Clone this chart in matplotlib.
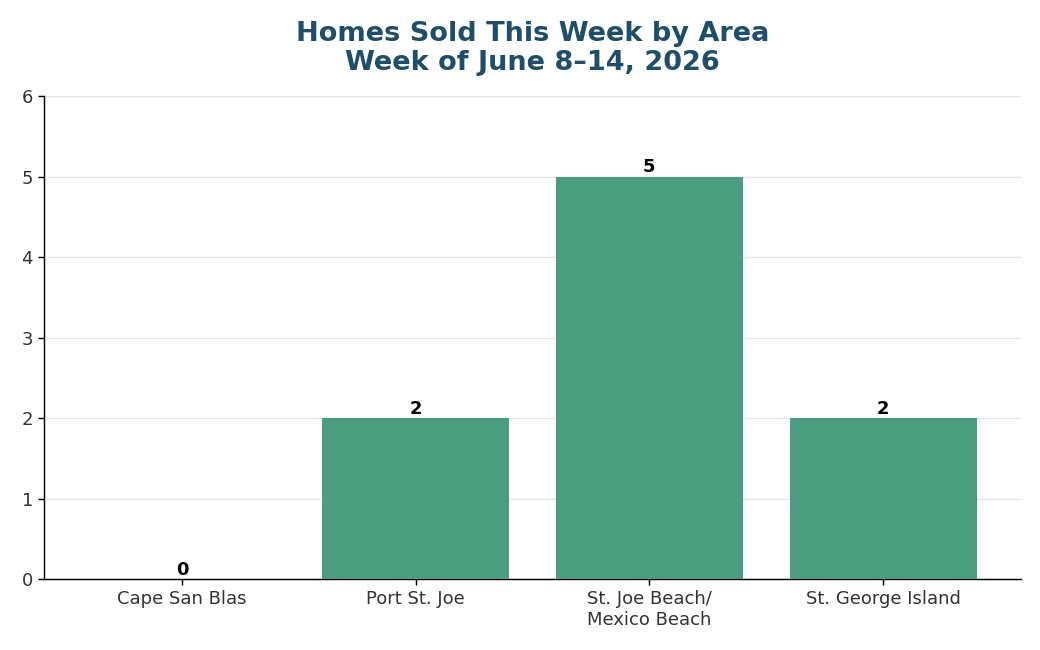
import matplotlib.pyplot as plt

areas = ["Cape San Blas", "Port St. Joe", "St. Joe Beach/\nMexico Beach", "St. George Island"]
homes_sold = [0, 2, 5, 2]

plt.rcParams["axes.linewidth"] = 1.04
plt.rcParams["xtick.major.size"] = 4.5
plt.rcParams["ytick.major.size"] = 4.5
plt.rcParams["xtick.major.width"] = 1.04
plt.rcParams["ytick.major.width"] = 1.04

fig = plt.figure(figsize=(10.4, 6.5), dpi=100)
ax = fig.add_axes([0.0423, 0.1092, 0.9394, 0.7431])

bars = ax.bar(range(len(areas)), homes_sold, width=0.8, color="#4a9d7f", zorder=3)
for i, v in enumerate(homes_sold):
    ax.text(i, v + 0.005, str(v), ha="center", va="bottom",
            fontsize=13, fontweight="bold", color="black")

ax.set_xticks(range(len(areas)))
ax.set_xticklabels(areas, fontsize=13, color="#333333")
ax.set_ylim(0, 6)
ax.set_yticks(range(0, 7))
ax.tick_params(axis="y", labelsize=13, labelcolor="#333333")
ax.yaxis.grid(True, color="#e6e6e6", linewidth=1.0, zorder=0)
ax.set_axisbelow(True)
ax.spines["top"].set_visible(False)
ax.spines["right"].set_visible(False)

ax.set_title("Homes Sold This Week by Area\nWeek of June 8\u201314, 2026",
             fontsize=19.5, fontweight="bold", color="#1f4e6b", pad=19,
             linespacing=1.15)

fig.savefig("out.png", dpi=100)
